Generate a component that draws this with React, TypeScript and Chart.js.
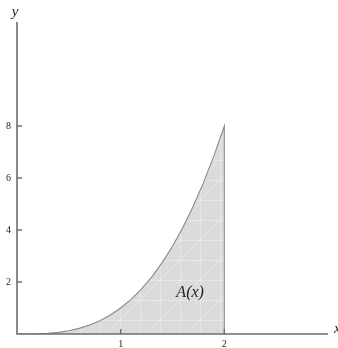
import React, { useEffect, useRef } from "react";
import { Chart, registerables } from "chart.js";
Chart.register(...registerables);

const xValues = [0, 0.1, 0.2, 0.3, 0.4, 0.5, 0.6, 0.7, 0.8, 0.9, 1, 1.1, 1.2, 1.3, 1.4, 1.5, 1.6, 1.7, 1.8, 1.9, 2, 2];
const yValues = [0, 0.001, 0.008, 0.027, 0.064, 0.125, 0.216, 0.343, 0.512, 0.729, 1, 1.331, 1.728, 2.197, 2.744, 3.375, 4.096, 4.913, 5.832, 6.859, 8, 0];
const xTicks = [1, 2];
const yTicks = [2, 4, 6, 8];
const xAxisLabel = "x";
const yAxisLabel = "y";
const areaLabel = "A(x)";
const areaLabelPos = { x: 1.67, y: 1.6 };

function makePattern(ctx: CanvasRenderingContext2D) {
  const s = 20;
  const c = document.createElement("canvas");
  c.width = s; c.height = s;
  const g = c.getContext("2d")!;
  g.fillStyle = "#dbdbdb";
  g.fillRect(0, 0, s, s);
  g.strokeStyle = "rgba(255,255,255,0.3)";
  g.lineWidth = 1;
  g.beginPath();
  g.moveTo(0, 0.5); g.lineTo(s, 0.5);
  g.moveTo(0.5, 0); g.lineTo(0.5, s);
  g.moveTo(0, s); g.lineTo(s, 0);
  g.stroke();
  return ctx.createPattern(c, "repeat");
}

const axesPlugin = {
  id: "customAxes",
  afterDatasetsDraw(chart: any) {
    const { ctx, chartArea, scales } = chart;
    const xs = scales.x, ys = scales.y;
    const x0 = xs.getPixelForValue(0);
    const y0 = ys.getPixelForValue(0);
    ctx.save();
    ctx.strokeStyle = "#6e6e6e";
    ctx.lineWidth = 1.6;
    ctx.beginPath();
    ctx.moveTo(x0, chartArea.top);
    ctx.lineTo(x0, y0);
    ctx.lineTo(chartArea.right, y0);
    ctx.stroke();
    ctx.lineWidth = 1.4;
    ctx.beginPath();
    xTicks.forEach((t) => {
      const px = xs.getPixelForValue(t);
      ctx.moveTo(px, y0); ctx.lineTo(px, y0 - 5);
    });
    yTicks.forEach((t) => {
      const py = ys.getPixelForValue(t);
      ctx.moveTo(x0, py); ctx.lineTo(x0 + 5, py);
    });
    ctx.stroke();
    ctx.fillStyle = "#222";
    ctx.font = "10px 'Liberation Serif', serif";
    ctx.textAlign = "center";
    ctx.textBaseline = "middle";
    xTicks.forEach((t) => ctx.fillText(String(t), xs.getPixelForValue(t), y0 + 10));
    ctx.textAlign = "right";
    yTicks.forEach((t) => ctx.fillText(String(t), x0 - 6, ys.getPixelForValue(t)));
    ctx.font = "italic 15px 'Liberation Serif', serif";
    ctx.textAlign = "center";
    ctx.fillText(yAxisLabel, x0 - 2, 12);
    ctx.textAlign = "left";
    ctx.fillText(xAxisLabel, chartArea.right + 6, y0 - 5);
    ctx.font = "italic 16px 'Liberation Serif', serif";
    ctx.textAlign = "center";
    ctx.fillStyle = "#222";
    ctx.fillText(areaLabel, xs.getPixelForValue(areaLabelPos.x), ys.getPixelForValue(areaLabelPos.y));
    ctx.restore();
  },
};

export default function App() {
  const ref = useRef<HTMLCanvasElement>(null);
  useEffect(() => {
    const canvas = ref.current!;
    const ctx = canvas.getContext("2d")!;
    const chart = new Chart(canvas, {
      type: "line",
      data: {
        datasets: [
          {
            data: xValues.map((x, i) => ({ x, y: yValues[i] })),
            borderColor: "#8a8a8a",
            borderWidth: 1.1,
            backgroundColor: makePattern(ctx) as any,
            fill: "origin",
            pointRadius: 0,
            tension: 0,
          },
        ],
      },
      options: {
        animation: false,
        responsive: false,
        maintainAspectRatio: false,
        layout: { padding: { left: 17, right: 10, top: 22, bottom: 14 } },
        plugins: { legend: { display: false }, tooltip: { enabled: false } },
        scales: {
          x: { type: "linear", min: 0, max: 3, display: false },
          y: { type: "linear", min: 0, max: 12, display: false },
        },
      },
      plugins: [axesPlugin],
    });
    return () => chart.destroy();
  }, []);
  return (
    <div style={{ position: "fixed", left: 0, top: 0, width: 338, height: 348, background: "#fff" }}>
      <canvas ref={ref} width={338} height={348} style={{ width: 338, height: 348, display: "block" }} />
    </div>
  );
}
